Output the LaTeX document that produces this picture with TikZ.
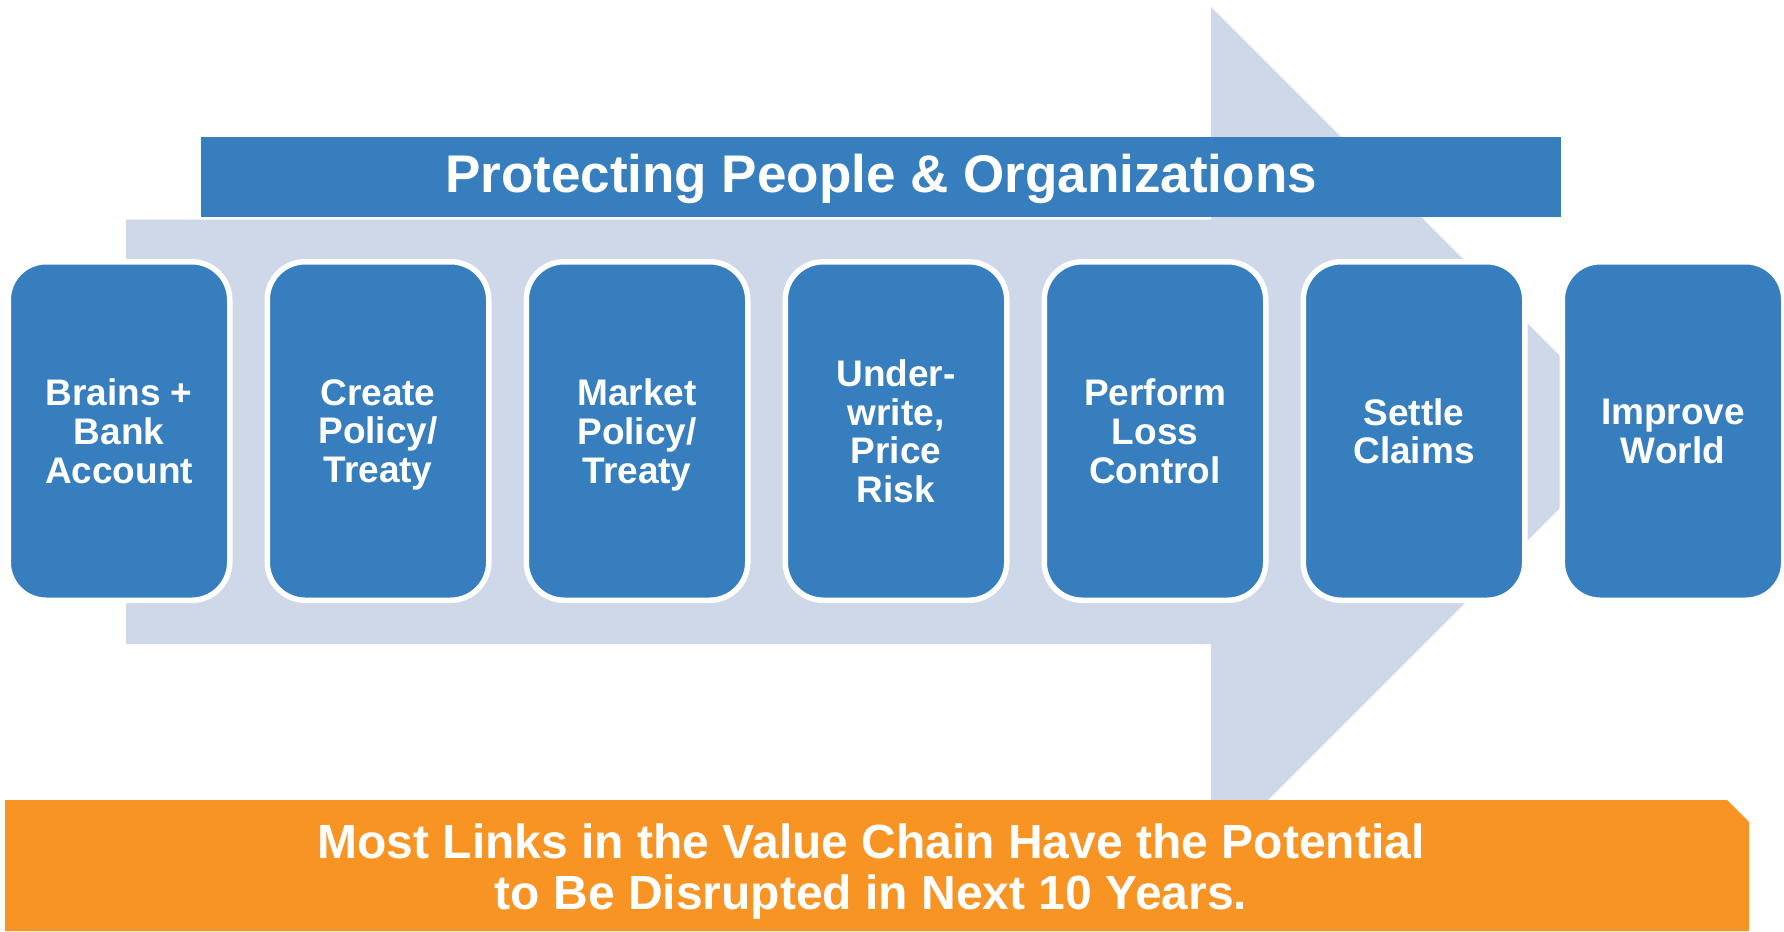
\documentclass[tikz,border=0pt]{standalone}
\usepackage{fontspec}
\setmainfont{Liberation Sans}
\definecolor{chainblue}{HTML}{367EBE}
\definecolor{arrowgray}{HTML}{CFD8E8}
\definecolor{noteorange}{HTML}{F79424}
\begin{document}
\begin{tikzpicture}[x=1pt,y=-1pt,
  link/.style={draw=white, line width=5.5pt, fill=chainblue, rounded corners=38pt,
    minimum width=221.5pt, minimum height=338.5pt, inner sep=0pt, text=white,
    align=center, text depth=0pt, font=\bfseries\fontsize{37}{38.6}\selectfont},
  banner/.style={fill=chainblue, minimum width=1360pt, minimum height=80pt, inner sep=0pt,
    text=white, text height=38pt, text depth=6.6pt,
    font=\bfseries\fontsize{53}{60}\selectfont},
  notetext/.style={inner sep=0pt, text=white, align=center, text depth=0pt,
    font=\bfseries\fontsize{48}{51.7}\selectfont}
]
\useasboundingbox (0,0) rectangle (1784,931);

% big background arrow
\fill[arrowgray] (126,219.5) -- (1211,219.5) -- (1211,7) -- (1636,432)
  -- (1211,857) -- (1211,644) -- (126,644) -- cycle;

% heading bar
\node[banner] (title) at (881,177) {Protecting People \& Organizations};

% value chain links
\node[link] (b1) at (119,431)  {Brains +\\Bank\\Account};
\node[link] (b2) at (378,431)  {Create\\Policy/\\Treaty};
\node[link] (b3) at (637,431)  {Market\\Policy/\\Treaty};
\node[link] (b4) at (896,431)  {Under-\\write,\\Price\\Risk};
\node[link] (b5) at (1155,431) {Perform\\Loss\\Control};
\node[link] (b6) at (1414,431) {Settle\\Claims};
\node[link] (b7) at (1673,431) {Improve\\World};

% bottom note
\fill[noteorange] (5,800) -- (1727,800) -- (1749,822) -- (1749,931) -- (5,931) -- cycle;
\node[notetext] (note) at (871,866.7)
  {Most Links in the Value Chain Have the Potential\\to Be Disrupted in Next 10 Years.};
\end{tikzpicture}
\end{document}
